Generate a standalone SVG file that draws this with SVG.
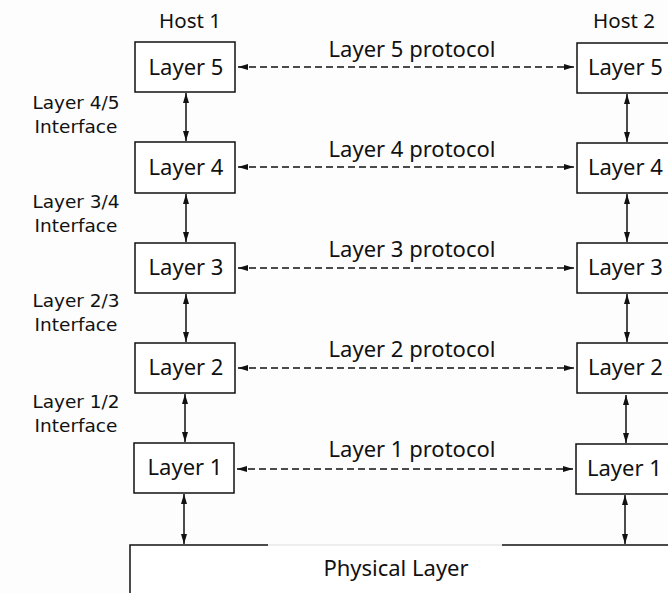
<svg xmlns="http://www.w3.org/2000/svg" width="668" height="593" viewBox="0 0 668 593">
<style>
text{font-family:"Noto Sans","DejaVu Sans",sans-serif;fill:#111}
.box{fill:#fff;stroke:#111;stroke-width:1.5}
.lbl{font-size:22px}
.host{font-size:20.5px;text-anchor:middle}
.ifc{font-family:"DejaVu Sans",sans-serif;font-size:18.5px;text-anchor:middle}
.proto{font-size:22px;text-anchor:middle}
.dash{stroke:#111;stroke-width:1.4;stroke-dasharray:7 4;fill:none}
.vert{stroke:#111;stroke-width:1.5;fill:none}
.edge{stroke:#111;stroke-width:1.5;fill:none}
</style>
<defs>
<marker id="ah" viewBox="0 0 10 6" refX="10" refY="3" markerWidth="10" markerHeight="6" markerUnits="userSpaceOnUse" orient="auto-start-reverse">
<path d="M0,0 L10,3 L0,6 Z" fill="#111"/>
</marker>
</defs>
<rect width="668" height="593" fill="#fdfdfd"/>
<text class="host" x="190" y="28">Host 1</text>
<text class="host" x="624" y="28">Host 2</text>
<g id="interfaces">
<text class="ifc" x="76" y="109">Layer 4/5</text><text class="ifc" x="76" y="133">Interface</text>
<text class="ifc" x="76" y="208">Layer 3/4</text><text class="ifc" x="76" y="232">Interface</text>
<text class="ifc" x="76" y="307">Layer 2/3</text><text class="ifc" x="76" y="331">Interface</text>
<text class="ifc" x="76" y="408">Layer 1/2</text><text class="ifc" x="76" y="432">Interface</text>
</g>
<g id="h1-l5"><rect class="box" x="135" y="42" width="100" height="50"/><text class="lbl" x="186" y="75" text-anchor="middle">Layer 5</text></g>
<g id="h1-l4"><rect class="box" x="135" y="142" width="100" height="51"/><text class="lbl" x="186" y="175" text-anchor="middle">Layer 4</text></g>
<g id="h1-l3"><rect class="box" x="135" y="243" width="100" height="50"/><text class="lbl" x="186" y="275" text-anchor="middle">Layer 3</text></g>
<g id="h1-l2"><rect class="box" x="135" y="343" width="100" height="50"/><text class="lbl" x="186" y="375" text-anchor="middle">Layer 2</text></g>
<g id="h1-l1"><rect class="box" x="134" y="443" width="100" height="50"/><text class="lbl" x="185" y="475" text-anchor="middle">Layer 1</text></g>
<g id="h2-l5"><rect class="box" x="577" y="43" width="120" height="50"/><text class="lbl" x="588" y="75">Layer 5</text></g>
<g id="h2-l4"><rect class="box" x="577" y="143" width="120" height="50"/><text class="lbl" x="588" y="175">Layer 4</text></g>
<g id="h2-l3"><rect class="box" x="577" y="243" width="120" height="50"/><text class="lbl" x="588" y="275">Layer 3</text></g>
<g id="h2-l2"><rect class="box" x="577" y="343" width="120" height="50"/><text class="lbl" x="588" y="375">Layer 2</text></g>
<g id="h2-l1"><rect class="box" x="576" y="444" width="120" height="50"/><text class="lbl" x="587" y="476">Layer 1</text></g>
<g id="physical">
<rect x="130" y="545" width="600" height="80" fill="#fff"/>
<path class="edge" d="M130,600 V545 H268 M502,545 H668"/>
<path d="M268,545 H502" stroke="#ddd" stroke-width="1.2" fill="none"/>
<text class="lbl" x="396" y="576" text-anchor="middle">Physical Layer</text>
</g>
<g id="protocol-labels">
<text class="proto" x="412" y="57">Layer 5 protocol</text>
<text class="proto" x="412" y="157">Layer 4 protocol</text>
<text class="proto" x="412" y="257">Layer 3 protocol</text>
<text class="proto" x="412" y="357">Layer 2 protocol</text>
<text class="proto" x="412" y="457">Layer 1 protocol</text>
</g>
<g id="connectors">
<line class="dash" x1="238" y1="67" x2="574" y2="67" marker-start="url(#ah)" marker-end="url(#ah)"/>
<line class="dash" x1="238" y1="167" x2="574" y2="167" marker-start="url(#ah)" marker-end="url(#ah)"/>
<line class="dash" x1="238" y1="268" x2="574" y2="268" marker-start="url(#ah)" marker-end="url(#ah)"/>
<line class="dash" x1="238" y1="368" x2="574" y2="368" marker-start="url(#ah)" marker-end="url(#ah)"/>
<line class="dash" x1="237" y1="469" x2="573" y2="469" marker-start="url(#ah)" marker-end="url(#ah)"/>
<line class="vert" x1="186" y1="93" x2="186" y2="141" marker-start="url(#ah)" marker-end="url(#ah)"/>
<line class="vert" x1="186" y1="194" x2="186" y2="242" marker-start="url(#ah)" marker-end="url(#ah)"/>
<line class="vert" x1="186" y1="294" x2="186" y2="342" marker-start="url(#ah)" marker-end="url(#ah)"/>
<line class="vert" x1="185" y1="394" x2="185" y2="442" marker-start="url(#ah)" marker-end="url(#ah)"/>
<line class="vert" x1="184" y1="494" x2="184" y2="544" marker-start="url(#ah)" marker-end="url(#ah)"/>
<line class="vert" x1="627" y1="94" x2="627" y2="142" marker-start="url(#ah)" marker-end="url(#ah)"/>
<line class="vert" x1="627" y1="194" x2="627" y2="242" marker-start="url(#ah)" marker-end="url(#ah)"/>
<line class="vert" x1="627" y1="294" x2="627" y2="342" marker-start="url(#ah)" marker-end="url(#ah)"/>
<line class="vert" x1="626" y1="395" x2="626" y2="443" marker-start="url(#ah)" marker-end="url(#ah)"/>
<line class="vert" x1="625" y1="495" x2="625" y2="544" marker-start="url(#ah)" marker-end="url(#ah)"/>
</g>
</svg>
